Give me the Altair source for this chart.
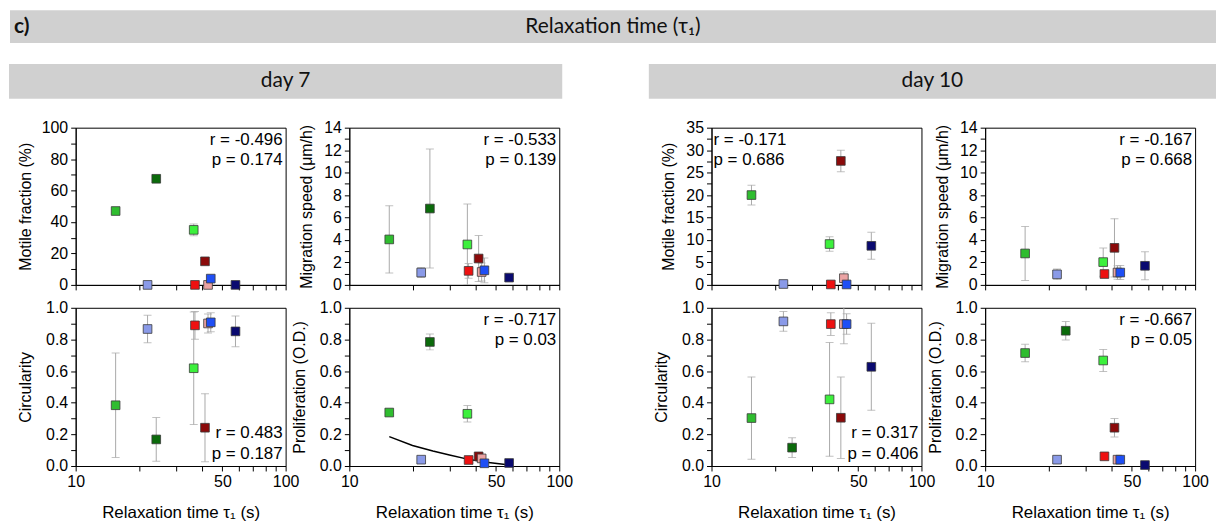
import altair as alt
import pandas as pd

FONT = "Liberation Sans"
HFONT = "Lato"

# ---- data -------------------------------------------------------------
groups = ["g1", "g2", "g3", "g4", "g5", "g6", "g7", "g8", "g9"]
colors = ["#2fbd2f", "#8a9ae8", "#0b6b0b", "#3cf03c", "#ee1111",
          "#8b0a0a", "#eba3a3", "#1f4ff5", "#0a0a70"]
tau = [15.5, 22.0, 24.2, 36.5, 37.0, 41.3, 42.7, 44.0, 57.7]

d7_motile = [47.0, 0.0, 67.5, 35.0, 0.0, 15.0, 0.0, 4.0, 0.0]
d7_motile_err = [1.5, 0.3, 2.0, 3.8, 0.2, 1.0, 0.3, 1.0, 0.3]
d7_speed = [4.05, 1.1, 6.8, 3.6, 1.25, 2.35, 1.15, 1.3, 0.65]
d7_speed_err = [3.0, 0.45, 5.3, 3.6, 0.65, 2.05, 0.8, 1.1, 0.1]
d7_circ = [0.384, 0.866, 0.168, 0.618, 0.889, 0.242, 0.901, 0.908, 0.851]
d7_circ_err = [0.33, 0.087, 0.138, 0.356, 0.088, 0.215, 0.06, 0.06, 0.097]
d7_prolif = [0.338, 0.04, 0.784, 0.33, 0.038, 0.061, 0.048, 0.017, 0.019]
d7_prolif_err = [0.01, 0.01, 0.05, 0.052, 0.01, 0.012, 0.01, 0.005, 0.005]
d7_fit_tau = [15.5, 20.0, 25.0, 30.0, 37.0, 45.0, 58.0]
d7_fit_val = [0.186, 0.13, 0.095, 0.07, 0.042, 0.023, 0.006]

d10_motile = [20.0, 0.2, None, 9.1, 0.1, 27.6, 1.5, 0.1, 8.7]
d10_motile_err = [2.2, 0.2, None, 1.6, 0.1, 2.4, 1.4, 0.1, 3.0]
d10_speed = [2.8, 0.94, None, 2.03, 0.97, 3.3, 1.1, 1.1, 1.7]
d10_speed_err = [2.4, 0.47, None, 1.25, 0.3, 2.6, 0.6, 0.62, 1.25]
d10_circ = [0.303, 0.914, 0.116, 0.421, 0.897, 0.305, 0.897, 0.897, 0.627]
d10_circ_err = [0.26, 0.063, 0.062, 0.36, 0.072, 0.257, 0.125, 0.065, 0.275]
d10_prolif = [0.714, 0.04, 0.855, 0.667, 0.061, 0.242, 0.04, 0.04, 0.006]
d10_prolif_err = [0.055, 0.008, 0.058, 0.07, 0.01, 0.058, 0.005, 0.005, 0.004]

stats_r = ["r = -0.496", "r = -0.533", "r = 0.483", "r = -0.717",
           "r = -0.171", "r = -0.167", "r = 0.317", "r = -0.667"]
stats_p = ["p = 0.174", "p = 0.139", "p = 0.187", "p = 0.03",
           "p = 0.686", "p = 0.668", "p = 0.406", "p = 0.05"]

main_title = "Relaxation time (\u03c4\u2081)"
panel_tag = "c)"
day_titles = ["day 7", "day 10"]
x_title = "Relaxation time \u03c4\u2081 (s)"
x_ticks = [10, 20, 30, 40, 50, 60, 70, 80, 90, 100]

W = 211
H_TOP = 158
H_BOT = 159
BAR_H = 35
ROW0_H = 41
GAP = 25  # spacer column between the two days

color_scale = alt.Scale(domain=groups, range=colors)
NOFRAME = alt.ViewBackground(stroke="transparent")


def panel(mean, err, ymax, major, minor, ytitle, fmt, ext, show_x, r, p,
          ann, height, fit=None):
    rows = [dict(g=g, tau=t, m=m, lo=m - e, hi=m + e)
            for g, t, m, e in zip(groups, tau, mean, err) if m is not None]
    df = pd.DataFrame(rows)
    n = int(round(ymax / minor))
    yvals = [round(k * minor, 3) for k in range(n + 1)]
    yaxis = alt.Axis(values=yvals, format=fmt, title=ytitle,
                     labelExpr=f"abs(datum.value/{major} - round(datum.value/{major})) < 0.001 ? datum.label : ''",
                     minExtent=ext, maxExtent=ext, titlePadding=5)
    if show_x:
        xaxis = alt.Axis(values=x_ticks, format="d", title=x_title,
                         labelExpr="(datum.value==10||datum.value==50||datum.value==100) ? datum.label : ''",
                         labelFlush=False, titlePadding=15, titleFontSize=17)
    else:
        xaxis = alt.Axis(values=x_ticks, labels=False, title="")
    xs = alt.Scale(type="log", domain=[10, 100], nice=False)
    ys = alt.Scale(domain=[0, ymax], nice=False, zero=False)
    base = alt.Chart(df)
    X = alt.X("tau:Q", scale=xs, axis=xaxis)
    rule = base.mark_rule(color="#a8a8a8", strokeWidth=1, clip=True).encode(
        x=X, y=alt.Y("lo:Q", scale=ys, axis=yaxis), y2="hi:Q")
    cap_lo = base.mark_tick(orient="horizontal", size=8, thickness=1,
                            color="#a8a8a8", clip=True).encode(
        x=X, y=alt.Y("lo:Q", scale=ys, axis=yaxis))
    cap_hi = base.mark_tick(orient="horizontal", size=8, thickness=1,
                            color="#a8a8a8", clip=True).encode(
        x=X, y=alt.Y("hi:Q", scale=ys, axis=yaxis))
    pts = base.mark_square(size=76, opacity=1, stroke="#3a3a3a",
                           strokeWidth=0.8).encode(
        x=X, y=alt.Y("m:Q", scale=ys, axis=yaxis),
        fill=alt.Fill("g:N", scale=color_scale, legend=None),
        order=alt.Order("tau:Q"))
    layers = [rule, cap_lo, cap_hi, pts]
    if fit is not None:
        fdf = pd.DataFrame({"tau": fit[0], "v": fit[1]})
        layers.insert(0, alt.Chart(fdf).mark_line(color="black", strokeWidth=1.5).encode(
            x=X, y=alt.Y("v:Q", scale=ys, axis=yaxis)))
    adf = pd.DataFrame({"r": [r], "p": [p]})
    if ann == "tr":
        ax, al, y1, y2 = W - 3, "right", 12, 32
    elif ann == "tl":
        ax, al, y1, y2 = 2, "left", 12, 32
    else:
        ax, al, y1, y2 = W - 3, "right", height - 33, height - 12
    for field, yy in (("r", y1), ("p", y2)):
        layers.append(alt.Chart(adf).mark_text(
            align=al, baseline="middle", fontSize=17, font=FONT, color="black"
        ).encode(text=f"{field}:N", x=alt.value(ax), y=alt.value(yy)))
    return alt.layer(*layers).properties(width=W, height=height)


def bar_layers(text, x0, x1, y0, y1, fs):
    d = pd.DataFrame({"t": [text]})
    rect = alt.Chart(d).mark_rect(color="#d0d0d0").encode(
        x=alt.value(x0), x2=alt.value(x1), y=alt.value(y0), y2=alt.value(y1))
    txt = alt.Chart(d).mark_text(font=HFONT, fontSize=fs, align="center",
                                 baseline="middle", color="#111").encode(
        text="t:N", x=alt.value((x0 + x1) / 2), y=alt.value((y0 + y1) / 2))
    return [rect, txt]


def blank(w, h):
    d = pd.DataFrame({"t": [""]})
    return alt.Chart(d).mark_rect(opacity=0).encode(
        x=alt.value(0), x2=alt.value(1), y=alt.value(0), y2=alt.value(1)
    ).properties(width=w, height=h, view=NOFRAME)


# ---- panels ------------------------------------------------------------
p7a = panel(d7_motile, d7_motile_err, 100, 20, 10, "Motile fraction (%)", "d", 37,
            False, stats_r[0], stats_p[0], "tr", H_TOP)
p7b = panel(d7_speed, d7_speed_err, 14, 2, 1, "Migration speed (\u03bcm/h)", "d", 30,
            False, stats_r[1], stats_p[1], "tr", H_TOP)
p7c = panel(d7_circ, d7_circ_err, 1.0, 0.2, 0.1, "Circularity", ".1f", 37,
            True, stats_r[2], stats_p[2], "br", H_BOT)
p7d = panel(d7_prolif, d7_prolif_err, 1.0, 0.2, 0.1, "Proliferation (O.D.)", ".1f", 37,
            True, stats_r[3], stats_p[3], "tr", H_BOT, fit=(d7_fit_tau, d7_fit_val))

p10a = panel(d10_motile, d10_motile_err, 35, 5, 2.5, "Motile fraction (%)", "d", 30,
             False, stats_r[4], stats_p[4], "tl", H_TOP)
p10b = panel(d10_speed, d10_speed_err, 14, 2, 1, "Migration speed (\u03bcm/h)", "d", 30,
             False, stats_r[5], stats_p[5], "tr", H_TOP)
p10c = panel(d10_circ, d10_circ_err, 1.0, 0.2, 0.1, "Circularity", ".1f", 37,
             True, stats_r[6], stats_p[6], "br", H_BOT)
p10d = panel(d10_prolif, d10_prolif_err, 1.0, 0.2, 0.1, "Proliferation (O.D.)", ".1f", 37,
             True, stats_r[7], stats_p[7], "tr", H_BOT)

# ---- header bars (row 0) ------------------------------------------------
hdr = bar_layers(main_title, -66, 1146, -54, -21, 21)
tagdf = pd.DataFrame({"c": [panel_tag]})
tag = alt.Chart(tagdf).mark_text(
    font=HFONT, fontSize=21, fontWeight="bold", align="left", baseline="middle",
    color="#111").encode(text="c:N", x=alt.value(-62), y=alt.value(-37.5))
d7bar = bar_layers(day_titles[0], -67, 489, 0, BAR_H, 21)
cell0 = alt.layer(*hdr, tag, *d7bar).properties(width=W, height=ROW0_H, view=NOFRAME)
d10bar = bar_layers(day_titles[1], -63, 507, 0, BAR_H, 21)
cell3 = alt.layer(*d10bar).properties(width=W, height=ROW0_H, view=NOFRAME)

cells = [
    cell0, blank(W, ROW0_H), blank(GAP, ROW0_H), cell3, blank(W, ROW0_H),
    p7a, p7b, blank(GAP, H_TOP), p10a, p10b,
    p7c, p7d, blank(GAP, H_BOT), p10c, p10d,
]

chart = alt.concat(
    *cells, columns=5, spacing={"row": 23, "column": 64}, bounds="flush"
).properties(
    padding=0
).configure_view(
    stroke="black", strokeWidth=1
).configure_axis(
    grid=False, domainColor="black", domainWidth=1, tickColor="black",
    tickSize=5, tickWidth=1, labelPadding=3,
    labelFont=FONT, titleFont=FONT, labelFontSize=16, titleFontSize=16,
    titleFontWeight="normal", labelColor="black", titleColor="black"
)

chart.save("out.html", embed_options={"renderer": "svg", "actions": False})
